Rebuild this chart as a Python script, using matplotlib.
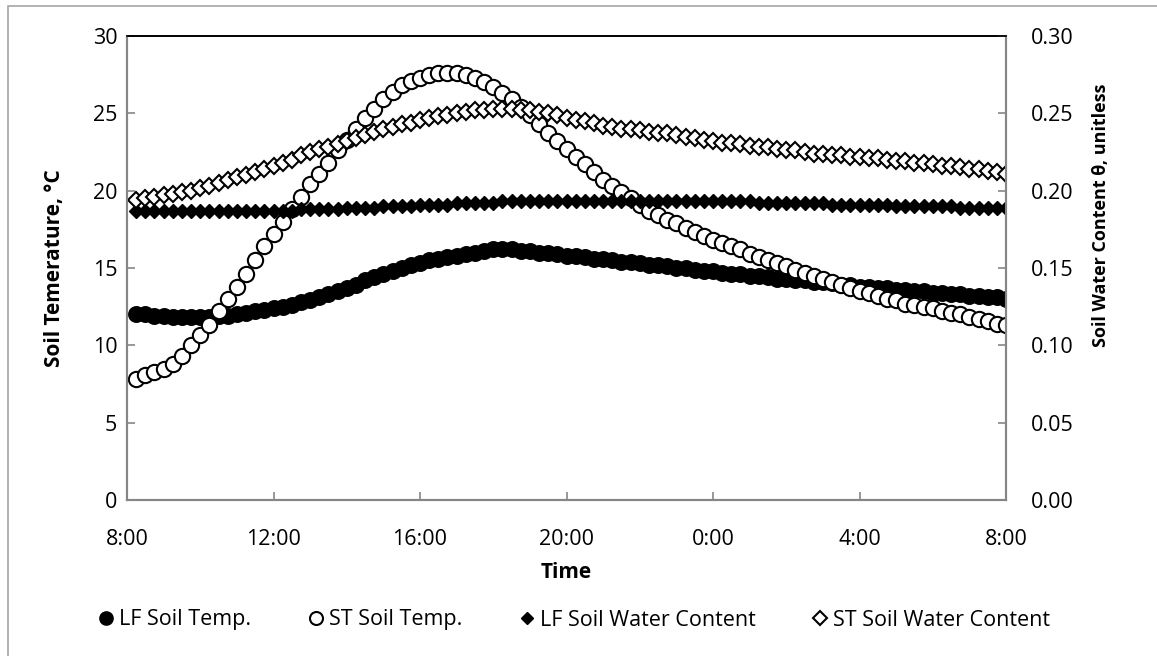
import pandas as pd
import matplotlib
matplotlib.use("Agg")
import matplotlib.pyplot as plt
import matplotlib.dates as mdates
from matplotlib.patches import Rectangle

plt.rcParams["font.family"] = ["Open Sans", "DejaVu Sans"]

# 15-minute readings, 8:15 to 8:00 the next morning
times = pd.date_range("2013-07-01 08:15", "2013-07-02 08:00", freq="15min")

# soil temperature, deg C
lf_temp = [
    12.0, 12.0, 11.9, 11.9,  11.8, 11.8, 11.8, 11.8,  11.8, 11.9, 11.9, 12.0,
    12.1, 12.2, 12.3, 12.4,  12.5, 12.6, 12.8, 12.9,  13.1, 13.3, 13.5, 13.7,
    13.9, 14.2, 14.4, 14.6,  14.8, 15.0, 15.2, 15.3,  15.5, 15.6, 15.7, 15.8,
    15.9, 16.0, 16.1, 16.2,  16.2, 16.2, 16.1, 16.1,  16.0, 16.0, 15.9, 15.8,
    15.8, 15.7, 15.6, 15.6,  15.5, 15.4, 15.4, 15.3,  15.2, 15.2, 15.1, 15.0,
    15.0, 14.9, 14.8, 14.8,  14.7, 14.6, 14.6, 14.5,  14.5, 14.4, 14.3, 14.3,
    14.2, 14.2, 14.1, 14.1,  14.0, 13.9, 13.9, 13.8,  13.8, 13.7, 13.7, 13.6,
    13.6, 13.5, 13.5, 13.4,  13.4, 13.3, 13.3, 13.2,  13.2, 13.1, 13.1, 13.0,
]
st_temp = [
    7.8, 8.1, 8.3, 8.5,      8.8, 9.3, 10.0, 10.7,    11.3, 12.2, 13.0, 13.8,
    14.6, 15.5, 16.4, 17.2,  18.0, 18.8, 19.6, 20.4,  21.1, 21.8, 22.6, 23.3,
    24.0, 24.7, 25.3, 25.9,  26.4, 26.8, 27.1, 27.3,  27.5, 27.6, 27.6, 27.6,
    27.5, 27.3, 27.0, 26.7,  26.3, 25.9, 25.4, 24.9,  24.3, 23.7, 23.2, 22.7,
    22.2, 21.7, 21.2, 20.7,  20.3, 19.9, 19.5, 19.1,  18.7, 18.4, 18.1, 17.9,
    17.6, 17.3, 17.1, 16.8,  16.6, 16.4, 16.2, 15.9,  15.7, 15.5, 15.3, 15.1,
    14.9, 14.7, 14.5, 14.3,  14.1, 13.9, 13.7, 13.5,  13.4, 13.2, 13.0, 12.9,
    12.7, 12.6, 12.5, 12.4,  12.2, 12.1, 12.0, 11.8,  11.7, 11.6, 11.4, 11.3,
]

# volumetric soil water content, theta
lf_swc = [
    0.187, 0.187, 0.187, 0.187,  0.187, 0.187, 0.187, 0.187,  0.187, 0.187, 0.187, 0.187,
    0.187, 0.187, 0.187, 0.187,  0.187, 0.187, 0.188, 0.188,  0.188, 0.188, 0.188, 0.189,
    0.189, 0.189, 0.189, 0.190,  0.190, 0.190, 0.190, 0.191,  0.191, 0.191, 0.191, 0.192,
    0.192, 0.192, 0.192, 0.192,  0.193, 0.193, 0.193, 0.193,  0.193, 0.193, 0.193, 0.193,
    0.193, 0.193, 0.193, 0.193,  0.193, 0.193, 0.193, 0.193,  0.193, 0.193, 0.193, 0.193,
    0.193, 0.193, 0.193, 0.193,  0.193, 0.193, 0.193, 0.193,  0.192, 0.192, 0.192, 0.192,
    0.192, 0.192, 0.192, 0.192,  0.191, 0.191, 0.191, 0.191,  0.191, 0.191, 0.191, 0.190,
    0.190, 0.190, 0.190, 0.190,  0.190, 0.190, 0.189, 0.189,  0.189, 0.189, 0.189, 0.189,
]
st_swc = [
    0.194, 0.195, 0.196, 0.197,  0.198, 0.199, 0.200, 0.202,  0.203, 0.205, 0.207, 0.209,
    0.210, 0.212, 0.214, 0.216,  0.218, 0.220, 0.223, 0.225,  0.227, 0.228, 0.230, 0.232,
    0.234, 0.236, 0.238, 0.240,  0.241, 0.243, 0.244, 0.246,  0.247, 0.248, 0.249, 0.250,
    0.251, 0.252, 0.252, 0.253,  0.253, 0.253, 0.252, 0.252,  0.251, 0.250, 0.249, 0.247,
    0.246, 0.245, 0.244, 0.242,  0.241, 0.240, 0.240, 0.239,  0.238, 0.237, 0.237, 0.236,
    0.235, 0.234, 0.233, 0.232,  0.231, 0.231, 0.230, 0.229,  0.228, 0.228, 0.227, 0.226,
    0.226, 0.225, 0.224, 0.224,  0.223, 0.223, 0.222, 0.222,  0.221, 0.221, 0.220, 0.219,
    0.219, 0.218, 0.218, 0.217,  0.216, 0.216, 0.215, 0.214,  0.214, 0.213, 0.212, 0.211,
]

temp_ticks = [0, 5, 10, 15, 20, 25, 30]
swc_ticks = [0.00, 0.05, 0.10, 0.15, 0.20, 0.25, 0.30]

W, H = 1157, 656
grey = "#868686"
fs = 15.5

fig = plt.figure(figsize=(W / 100, H / 100), dpi=100)
ax = fig.add_axes([127 / W, 1 - 500 / H, 879 / W, 464 / H])
ax2 = ax.twinx()

ax.plot(times, lf_temp, "o", ms=11, mfc="black", mec="black", mew=1.2,
        label="LF Soil Temp.")
ax.plot(times, st_temp, "o", ms=11, mfc="white", mec="black", mew=1.5,
        label="ST Soil Temp.")
ax2.plot(times, lf_swc, "D", ms=7.5, mfc="black", mec="black", mew=1,
         label="LF Soil Water Content")
ax2.plot(times, st_swc, "D", ms=8, mfc="white", mec="black", mew=1.5,
         label="ST Soil Water Content")

ax.set_xlim(pd.Timestamp("2013-07-01 08:00"), pd.Timestamp("2013-07-02 08:00"))
ax.xaxis.set_major_locator(mdates.HourLocator(byhour=[0, 4, 8, 12, 16, 20]))
ax.xaxis.set_major_formatter(mdates.DateFormatter("%-H:%M"))

ax.set_ylim(0, 30)
ax.set_yticks(temp_ticks)
ax2.set_ylim(0, 0.30)
ax2.set_yticks(swc_ticks)
ax2.set_yticklabels([f"{v:.2f}" for v in swc_ticks])

for a in (ax, ax2):
    for side in ("left", "right", "bottom"):
        a.spines[side].set_color(grey)
        a.spines[side].set_linewidth(1.5)
    a.spines["top"].set_color("black")
    a.spines["top"].set_linewidth(1.2)

ax.tick_params(axis="x", direction="in", length=6, width=1.2, color=grey,
               pad=21, labelsize=fs)
ax.tick_params(axis="y", direction="in", length=6, width=1.2, color=grey,
               pad=7, labelsize=fs)
ax2.tick_params(axis="y", direction="in", length=6, width=1.2, color=grey,
                pad=18, labelsize=fs)

# axis titles placed by their centres
fig.text(566 / W, 1 - 572 / H, "Time", fontsize=15, fontweight="bold",
         ha="center", va="center")
fig.text(55 / W, 1 - 268 / H, "Soil Temerature, °C", fontsize=15,
         fontweight="bold", rotation=90, ha="center", va="center")
fig.text(1101 / W, 1 - 215 / H, "Soil Water Content θ, unitless", fontsize=13,
         fontweight="bold", rotation=90, ha="center", va="center")

h1, l1 = ax.get_legend_handles_labels()
h2, l2 = ax2.get_legend_handles_labels()
fig.legend(h1 + h2, l1 + l2, loc="center", bbox_to_anchor=(574 / W, 1 - 620 / H),
           ncol=4, frameon=False, fontsize=fs, markerscale=0.85,
           handlelength=0.8, handletextpad=0.2, columnspacing=2.6)

# thin grey frame around the chart area
fig.add_artist(Rectangle((8 / W, -0.05), 1.1, 1 - 6 / H + 0.05,
                         transform=fig.transFigure, fill=False,
                         edgecolor="#a6a6a6", linewidth=1.2))

fig.savefig("out.png", dpi=100)
